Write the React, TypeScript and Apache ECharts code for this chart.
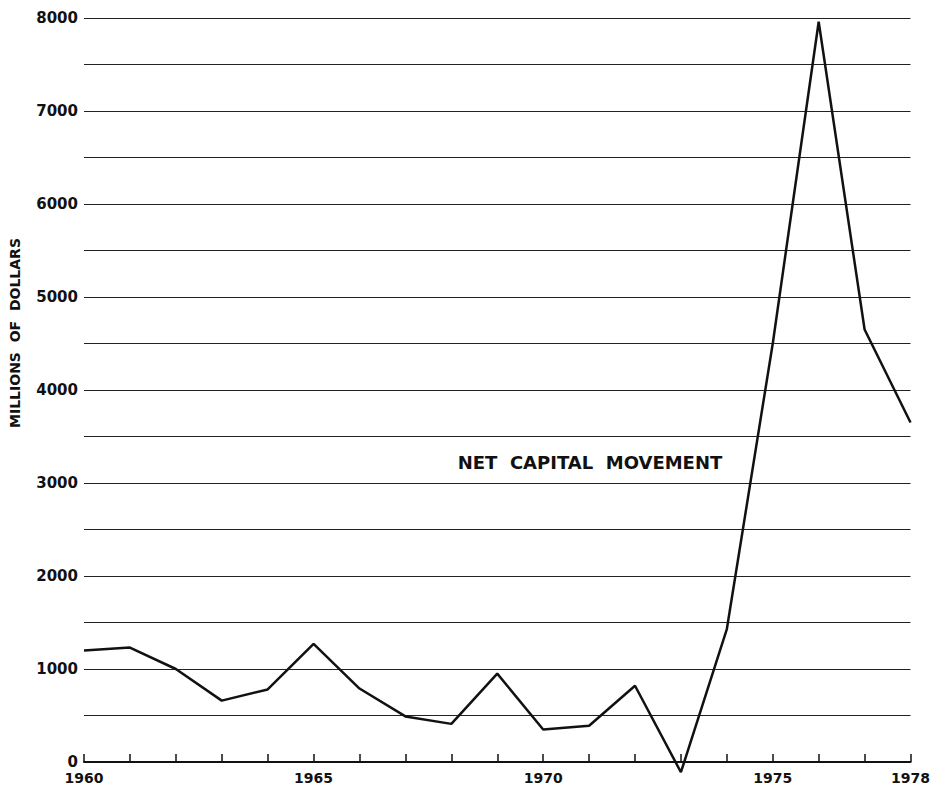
import React, { useEffect, useRef } from "react";
import * as echarts from "echarts";

const years = [1960, 1961, 1962, 1963, 1964, 1965, 1966, 1967, 1968, 1969, 1970, 1971, 1972, 1973, 1974, 1975, 1976, 1977, 1978];
const netCapital = [1200, 1230, 1000, 660, 780, 1270, 790, 490, 410, 950, 350, 390, 820, -110, 1430, 4500, 7960, 4650, 3650];
const xLabelYears = [1960, 1965, 1970, 1975, 1978];
const yAxisTitle = "MILLIONS  OF  DOLLARS";
const seriesLabel = "NET  CAPITAL  MOVEMENT";

export default function App() {
  const ref = useRef<HTMLDivElement>(null);
  useEffect(() => {
    if (!ref.current) return;
    const chart = echarts.init(ref.current, undefined, { renderer: "svg" });
    const font = "'DejaVu Sans', sans-serif";
    chart.setOption({
      animation: false,
      backgroundColor: "#ffffff",
      grid: { left: 84, right: 14, top: 18, bottom: 26, containLabel: false },
      xAxis: {
        type: "value",
        min: 1960,
        max: 1978,
        interval: 1,
        axisLine: { show: true, lineStyle: { color: "#111", width: 2 } },
        axisTick: { show: true, inside: true, length: 8, lineStyle: { color: "#111", width: 1.5 } },
        splitLine: { show: false },
        axisLabel: {
          margin: 9,
          color: "#111",
          fontFamily: font,
          fontWeight: "bold",
          fontSize: 14,
          showMinLabel: true,
          showMaxLabel: true,
          formatter: (v: number) => (xLabelYears.indexOf(Math.round(v)) >= 0 ? String(Math.round(v)) : ""),
        },
      },
      yAxis: {
        type: "value",
        min: 0,
        max: 8000,
        interval: 500,
        axisLine: { show: false },
        axisTick: { show: false },
        splitLine: { show: true, lineStyle: { color: "#222", width: 1 } },
        axisLabel: {
          margin: 6,
          color: "#111",
          fontFamily: font,
          fontWeight: "bold",
          fontSize: 15,
          formatter: (v: number) => (v % 1000 === 0 ? String(v) : ""),
        },
      },
      series: [
        {
          type: "line",
          data: years.map((y, i) => [y, netCapital[i]]),
          showSymbol: false,
          symbol: "none",
          clip: false,
          lineStyle: { color: "#111", width: 2.5 },
        },
      ],
      graphic: [
        {
          type: "text",
          x: 15,
          y: 333,
          rotation: Math.PI / 2,
          style: {
            text: yAxisTitle,
            fontFamily: font,
            fontWeight: "bold",
            fontSize: 14,
            fill: "#111",
            align: "center",
            verticalAlign: "middle",
          },
        },
        {
          type: "text",
          x: 590,
          y: 462,
          style: {
            text: seriesLabel,
            fontFamily: font,
            fontWeight: "bold",
            fontSize: 18,
            fill: "#111",
            align: "center",
            verticalAlign: "middle",
          },
        },
      ],
    });
    return () => chart.dispose();
  }, []);
  return (
    <div
      ref={ref}
      style={{ position: "fixed", left: 0, top: 0, width: 933, height: 788, background: "#fff" }}
    />
  );
}
